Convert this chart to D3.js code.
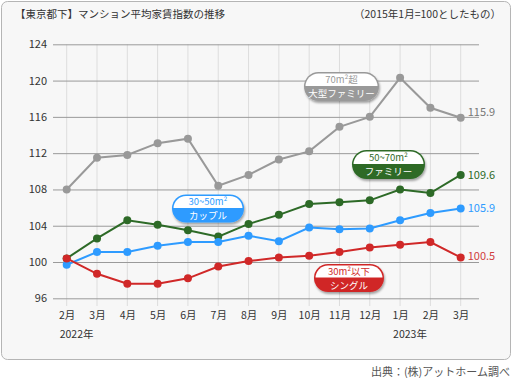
<!DOCTYPE html>
<html><head><meta charset="utf-8">
<script src="https://cdn.jsdelivr.net/npm/d3@7"></script>
<style>
html,body{margin:0;padding:0;background:#fff;}
svg{display:block;font-family:"Noto Sans CJK JP","Noto Sans",sans-serif;}
</style></head>
<body>
<svg id="c" width="512" height="378"></svg>
<script>
const months = ["2月","3月","4月","5月","6月","7月","8月","9月","10月","11月","12月","1月","2月","3月"];
const yearLabels = [{idx:0,text:"2022年"},{idx:11,text:"2023年"}];
const yTicks = [96,100,104,108,112,116,120,124];
const large  = [108.0,111.5,111.8,113.1,113.6,108.4,109.6,111.3,112.2,114.9,116.0,120.3,117.0,115.9];
const family = [100.4,102.6,104.6,104.1,103.5,102.8,104.2,105.2,106.4,106.6,106.8,108.0,107.6,109.6];
const couple = [99.7,101.1,101.1,101.8,102.2,102.2,102.9,102.3,103.8,103.6,103.7,104.6,105.4,105.9];
const single = [100.4,98.7,97.6,97.6,98.2,99.5,100.1,100.5,100.7,101.1,101.6,101.9,102.2,100.5];

const series = [
  {name:"large", values:large, color:"#999999", label:"#777777", top:"70m²超", bottom:"大型ファミリー", badge:[304,72,75,29], dy:-6},
  {name:"family", values:family, color:"#2d6a27", label:"#2d6a27", top:"50~70m²", bottom:"ファミリー", badge:[352,150,73,29], dy:0},
  {name:"couple", values:couple, color:"#2e9bff", label:"#2e9bff", top:"30~50m²", bottom:"カップル", badge:[172,194.5,72,28], dy:0},
  {name:"single", values:single, color:"#d02828", label:"#d04040", top:"30m²以下", bottom:"シングル", badge:[314,264,70,28], dy:-1}
];

const svg = d3.select("#c");
const defs = svg.append("defs");
const filt = defs.append("filter").attr("id","sh").attr("x","-20%").attr("y","-20%").attr("width","140%").attr("height","160%");
filt.append("feDropShadow").attr("dx",1).attr("dy",2).attr("stdDeviation",1.2).attr("flood-color","#000").attr("flood-opacity",0.35);

// frame
svg.append("rect").attr("x",1.5).attr("y",1.5).attr("width",509).attr("height",358).attr("rx",6)
  .attr("fill","#f7f7f7").attr("stroke","#b5b5b5").attr("stroke-width",1);

svg.append("text").attr("x",15).attr("y",18).attr("font-size",10.5).attr("fill","#333")
  .text("【東京都下】マンション平均家賃指数の推移");
svg.append("text").attr("x",501).attr("y",18).attr("font-size",10.5).attr("fill","#333").attr("text-anchor","end")
  .text("（2015年1月=100としたもの）");

const x = d3.scalePoint().domain(d3.range(months.length)).range([66.7,460.7]);
const y = d3.scaleLinear().domain([96,124]).range([298.3,44.3]);

// vertical grid
svg.append("g").selectAll("line").data(d3.range(months.length)).join("line")
  .attr("x1",d=>x(d)).attr("x2",d=>x(d)).attr("y1",y(124)).attr("y2",306)
  .attr("stroke","#dddddd").attr("stroke-width",1);

// horizontal grid + y labels
const yAxis = svg.append("g").attr("transform","translate(53,0)")
  .call(d3.axisLeft(y).tickValues(yTicks).tickSize(-426).tickPadding(6).tickFormat(d3.format("d")));
yAxis.select(".domain").remove();
yAxis.selectAll(".tick line").attr("stroke","#9a9a9a").attr("stroke-width",1);
yAxis.selectAll(".tick text").attr("font-size",11).attr("fill","#333").attr("font-family","Noto Sans CJK JP");

// x labels
const xAxis = svg.append("g").attr("transform","translate(0,308)")
  .call(d3.axisBottom(x).tickSize(0).tickPadding(4).tickFormat(i=>months[i]));
xAxis.select(".domain").remove();
xAxis.selectAll(".tick text").attr("font-size",10.5).attr("fill","#333").attr("font-family","Noto Sans CJK JP");

svg.append("g").selectAll("text").data(yearLabels).join("text")
  .attr("x",d=>x(d.idx)-7).attr("y",338).attr("font-size",10.5).attr("fill","#333").text(d=>d.text);

// lines
const line = d3.line().x((d,i)=>x(i)).y(d=>y(d));
series.forEach(s=>{
  const g = svg.append("g");
  g.append("path").datum(s.values).attr("d",line).attr("fill","none").attr("stroke",s.color).attr("stroke-width",2);
  g.selectAll("circle").data(s.values).join("circle").attr("cx",(d,i)=>x(i)).attr("cy",d=>y(d)).attr("r",4).attr("fill",s.color);
  const last = s.values.length-1;
  g.append("text").attr("x",x(last)+7).attr("y",y(s.values[last])+s.dy).attr("dy","0.35em")
    .attr("font-size",11).attr("fill",s.label).text(d3.format(".1f")(s.values[last]));
});

// badges
series.forEach((s,k)=>{
  const [bx,by,bw,bh] = s.badge;
  const g = svg.append("g");
  const cid = "clip"+k;
  defs.append("clipPath").attr("id",cid).append("rect").attr("x",bx-2).attr("y",by-2).attr("width",bw+4).attr("height",bh/2+1.5);
  g.append("rect").attr("x",bx).attr("y",by).attr("width",bw).attr("height",bh).attr("rx",bh/2)
    .attr("fill",s.color).attr("filter","url(#sh)");
  g.append("rect").attr("x",bx+1.5).attr("y",by+1.5).attr("width",bw-3).attr("height",bh-3).attr("rx",(bh-3)/2)
    .attr("fill","#fff").attr("clip-path",`url(#${cid})`);
  g.append("text").attr("x",bx+bw/2).attr("y",by+bh*0.26).attr("dy","0.36em").attr("text-anchor","middle")
    .attr("font-size",9.5).attr("fill",s.color).text(s.top);
  g.append("text").attr("x",bx+bw/2).attr("y",by+bh*0.76).attr("dy","0.36em").attr("text-anchor","middle")
    .attr("font-size",9.5).attr("fill","#fff").text(s.bottom);
});

svg.append("text").attr("x",510).attr("y",376).attr("text-anchor","end").attr("font-size",11).attr("fill","#555")
  .text("出典：(株)アットホーム調べ");
</script>
</body></html>
